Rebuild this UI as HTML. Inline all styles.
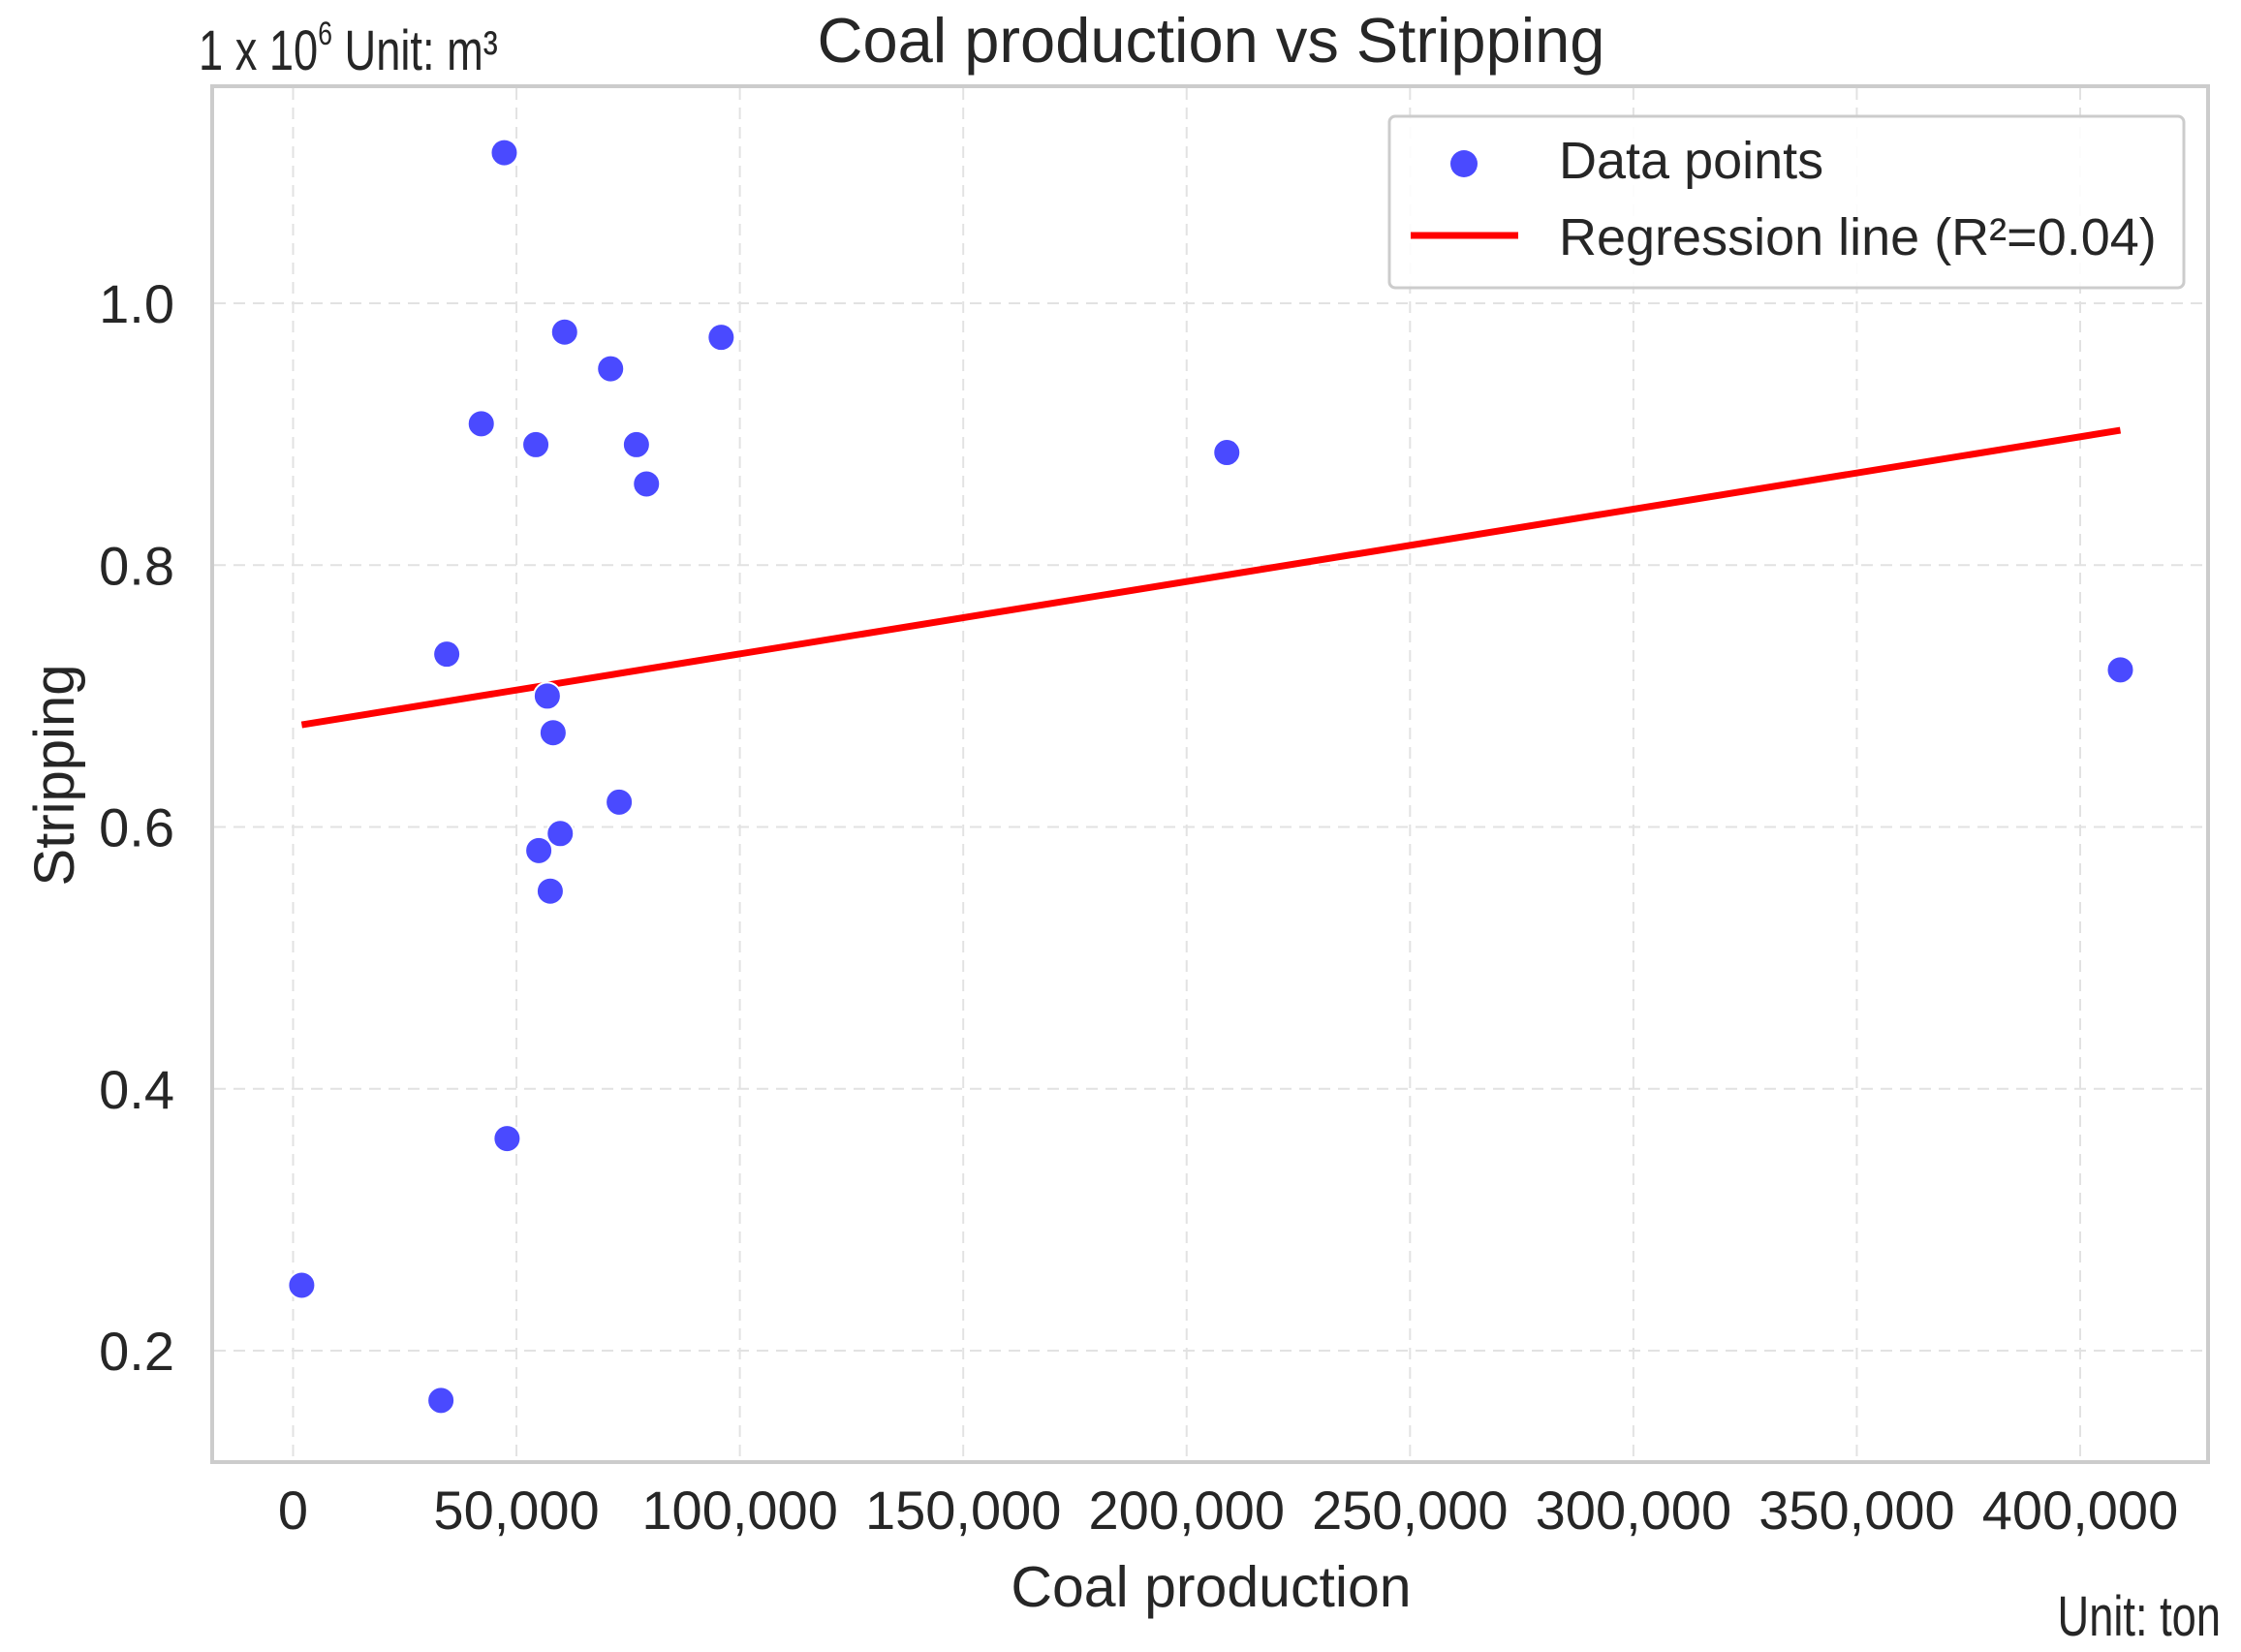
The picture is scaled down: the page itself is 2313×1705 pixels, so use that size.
<!DOCTYPE html>
<html><head><meta charset="utf-8"><style>html,body{margin:0;padding:0;background:#fff}svg{display:block}</style></head>
<body>
<svg id="chart" width="2313" height="1705" viewBox="0 0 2313 1705" xmlns="http://www.w3.org/2000/svg" font-family="Liberation Sans, DejaVu Sans, sans-serif">
<rect x="0" y="0" width="2313" height="1705" fill="#fff"/>
<g id="grid"></g>
<g id="xticks"></g>
<g id="yticks"></g>
<g id="reg"></g>
<g id="pts"></g>
<rect x="219" y="89" width="2060" height="1420" fill="none" stroke="#cccccc" stroke-width="4"/>
<text x="1250" y="64" font-size="65" text-anchor="middle" fill="#262626">Coal production vs Stripping</text>
<text x="205" y="72" font-size="58" fill="#262626" transform="translate(205 0) scale(0.78 1) translate(-205 0)">1 x 10<tspan font-size="34" dy="-26">6</tspan><tspan dy="26">  Unit: m³</tspan></text>
<text x="1250" y="1658" font-size="59" text-anchor="middle" fill="#262626">Coal production</text>
<text transform="translate(76 800) rotate(-90)" font-size="58" text-anchor="middle" fill="#262626">Stripping</text>
<text x="2292" y="1688" font-size="58" text-anchor="end" fill="#262626" transform="translate(2292 0) scale(0.78 1) translate(-2292 0)">Unit: ton</text>
<g>
<rect x="1434" y="120" width="820" height="177" rx="6" fill="#fff" fill-opacity="0.9" stroke="#cccccc" stroke-width="3"/>
<circle cx="1511" cy="169" r="14" fill="#4a4aff"/>
<text x="1609" y="184" font-size="54" fill="#262626">Data points</text>
<line x1="1456" y1="243" x2="1567" y2="243" stroke="#ff0000" stroke-width="7"/>
<text x="1609" y="263" font-size="54" fill="#262626">Regression line (R²=0.04)</text>
</g>
</svg>
<script>
const xTicks = [0,50000,100000,150000,200000,250000,300000,350000,400000];
const yTicks = [0.2,0.4,0.6,0.8,1.0];
const xVals = [47270,60780,71070,95820,42120,54340,76850,79100,209000,34400,56900,58200,73000,59800,55000,57560,47900,1930,33100,409000];
const yVals = [1.115,0.978,0.950,0.974,0.908,0.892,0.892,0.862,0.886,0.732,0.700,0.672,0.619,0.595,0.582,0.551,0.362,0.250,0.162,0.720];
const regX = [1930,409000];
const regY = [0.678,0.903];

const NS='http://www.w3.org/2000/svg';
function sx(v){return 302.5+(v/400000)*(2147-302.5);}
function sy(v){return 313+(1.0-v)/0.8*(1394-313);}
function mk(tag,attrs,parent){const e=document.createElementNS(NS,tag);for(const k in attrs)e.setAttribute(k,attrs[k]);parent.appendChild(e);return e;}
const grid=document.getElementById('grid'),xt=document.getElementById('xticks'),yt=document.getElementById('yticks');
xTicks.forEach(t=>{
  const l=mk('line',{x1:sx(t),x2:sx(t),y1:91,y2:1507,stroke:'#e2e2e2','stroke-width':2,'stroke-dasharray':'12 8'},grid);
  
  
  const tx=mk('text',{x:sx(t),y:1578,'font-size':56,'text-anchor':'middle',fill:'#262626'},xt);
  tx.textContent=t.toLocaleString('en-US');
  
  
});
yTicks.forEach(t=>{
  const l=mk('line',{x1:221,x2:2277,y1:sy(t),y2:sy(t),stroke:'#e2e2e2','stroke-width':2,'stroke-dasharray':'12 8'},grid);
  
  
  const tx=mk('text',{x:180,y:sy(t)+20,'font-size':56,'text-anchor':'end',fill:'#262626'},yt);
  tx.textContent=t.toFixed(1);
  
  
});
const reg=document.getElementById('reg');
const rl=mk('line',{x1:sx(regX[0]),y1:sy(regY[0]),x2:sx(regX[1]),y2:sy(regY[1]),stroke:'#ff0000','stroke-width':7},reg);


const pts=document.getElementById('pts');
xVals.forEach((v,i)=>{
  const c=mk('circle',{cx:sx(v),cy:sy(yVals[i]),r:14,fill:'#4a4aff',stroke:'#fff','stroke-width':2},pts);
  
  
});
</script>
</body></html>
